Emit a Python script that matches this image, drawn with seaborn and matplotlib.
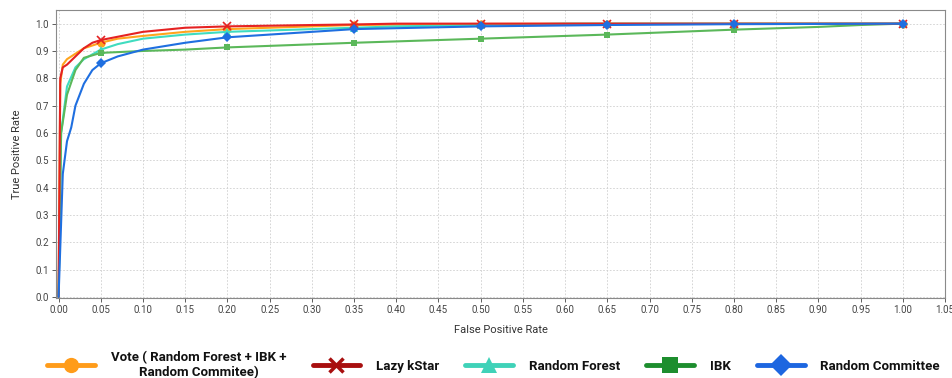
import numpy as np
import pandas as pd
import matplotlib
matplotlib.use("Agg")
import matplotlib.pyplot as plt
import seaborn as sns
from matplotlib.lines import Line2D

# ROC curve points

vote_fpr = [0, 0.002, 0.005, 0.01, 0.02, 0.03, 0.05, 0.07, 0.10, 0.15, 0.20, 0.30, 0.35, 0.50, 0.65, 0.80, 1.00]
vote_tpr = [0, 0.78, 0.85, 0.87, 0.89, 0.91, 0.93, 0.945, 0.955, 0.97, 0.98, 0.99, 0.995, 0.999, 1.0, 1.0, 1.0]

kstar_fpr = [0, 0.002, 0.005, 0.01, 0.02, 0.03, 0.04, 0.05, 0.07, 0.10, 0.15, 0.20, 0.30, 0.35, 0.40, 0.50, 0.65, 0.80, 1.00]
kstar_tpr = [0, 0.80, 0.84, 0.85, 0.88, 0.91, 0.93, 0.94, 0.952, 0.97, 0.985, 0.99, 0.995, 0.997, 1.0, 1.0, 1.0, 1.0, 1.0]

rf_fpr = [0, 0.003, 0.01, 0.02, 0.03, 0.05, 0.07, 0.10, 0.15, 0.20, 0.30, 0.35, 0.40, 0.50, 0.60, 0.65, 0.80, 1.00]
rf_tpr = [0, 0.60, 0.77, 0.84, 0.87, 0.905, 0.925, 0.945, 0.96, 0.97, 0.98, 0.985, 0.99, 0.995, 1.0, 1.0, 1.0, 1.0]

ibk_fpr = [0, 0.003, 0.01, 0.02, 0.03, 0.05, 0.10, 0.15, 0.20, 0.35, 0.50, 0.65, 0.80, 0.90, 0.95, 1.00]
ibk_tpr = [0, 0.60, 0.74, 0.83, 0.875, 0.893, 0.90, 0.905, 0.913, 0.93, 0.945, 0.96, 0.978, 0.988, 0.995, 1.0]

rc_fpr = [0, 0.005, 0.01, 0.015, 0.02, 0.03, 0.04, 0.05, 0.07, 0.10, 0.15, 0.20, 0.30, 0.35, 0.50, 0.65, 0.80, 1.00]
rc_tpr = [0, 0.45, 0.57, 0.62, 0.70, 0.78, 0.83, 0.855, 0.88, 0.905, 0.93, 0.95, 0.97, 0.98, 0.99, 0.995, 0.998, 1.0]

marker_x = [0.05, 0.20, 0.35, 0.50, 0.65, 0.80, 1.00]

models = ["Vote ( Random Forest + IBK +\nRandom Commitee)", "Lazy kStar", "Random Forest", "IBK", "Random Committee"]
curves = [(vote_fpr, vote_tpr), (kstar_fpr, kstar_tpr), (rf_fpr, rf_tpr), (ibk_fpr, ibk_tpr), (rc_fpr, rc_tpr)]
line_colors = ["#ffa41c", "#e52222", "#3fdcc0", "#5bb85a", "#1f6fe0"]
legend_colors = ["#ff9c1a", "#a80f0f", "#3fd2b8", "#1d8e2e", "#1d66e0"]
markers = ["o", "x", "^", "s", "D"]
msizes = [6, 6, 6, 5, 5]

sns.set_theme(style="whitegrid")
plt.rcParams["font.family"] = ["Roboto", "DejaVu Sans"]

fig = plt.figure(figsize=(9.53, 3.78), dpi=100)
ax = fig.add_axes([0.0588, 0.2116, 0.9328, 0.762])

# draw order so blue / red end on top like the reference
order = [0, 2, 3, 1, 4]
for i in order:
    fpr, tpr = curves[i]
    idx = [k for k, v in enumerate(fpr) if v in marker_x]
    sns.lineplot(x=fpr, y=tpr, ax=ax, color=line_colors[i], linewidth=1.5,
                 sort=False, estimator=None, marker=markers[i], markersize=msizes[i],
                 markevery=idx, markeredgewidth=1.2 if markers[i] == "x" else 0,
                 markeredgecolor=line_colors[i])

ax.set_xlim(-0.003, 1.05)
ax.set_ylim(-0.004, 1.05)
ax.set_xticks(np.arange(0, 1.051, 0.05))
ax.set_xticklabels([f"{v:.2f}" for v in np.arange(0, 1.051, 0.05)])
ax.set_yticks(np.arange(0, 1.01, 0.1))
ax.set_yticklabels([f"{v:.1f}" for v in np.arange(0, 1.01, 0.1)])
ax.tick_params(axis="both", labelsize=7, colors="#444444", length=3, width=0.6, pad=2)
ax.tick_params(axis="both", bottom=True, left=True)
ax.grid(True, linestyle=(0, (2, 2)), color="#cfcfcf", linewidth=0.6)
ax.set_facecolor("white")
for s in ax.spines.values():
    s.set_color("#8a8a8a")
    s.set_linewidth(0.8)

ax.set_xlabel("False Positive Rate", fontsize=8, color="#333333", labelpad=7)
ax.set_ylabel("True Positive Rate", fontsize=8, color="#333333", labelpad=10)

# Legend
handles = [Line2D([0], [0], color=legend_colors[i], linewidth=3.5, marker=markers[i],
                  markersize=11 if markers[i] != "x" else 10,
                  markeredgewidth=2.5 if markers[i] == "x" else 0,
                  markeredgecolor=legend_colors[i]) for i in range(5)]
leg = fig.legend(handles, models, loc="center", bbox_to_anchor=(0.518, 0.035), ncol=5,
                 frameon=False, handlelength=3.6, columnspacing=2.0, handletextpad=1.2,
                 prop={"weight": "bold", "size": 9.5})
for t in leg.get_texts():
    t.set_multialignment("center")
    t.set_color("#111111")

fig.savefig("out.png", dpi=100, facecolor="white")
